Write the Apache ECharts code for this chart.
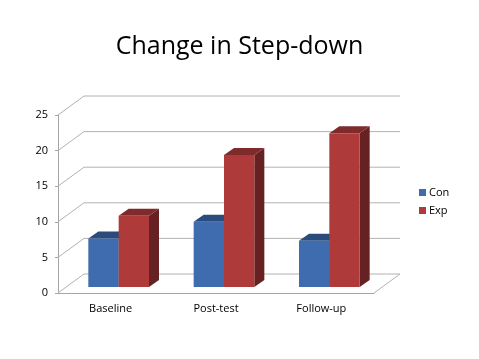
<!DOCTYPE html>
<html>
<head>
<meta charset="utf-8">
<style>
  html, body { margin: 0; padding: 0; background: #fff; }
  #chart { width: 479px; height: 359px; }
</style>
<script src="https://cdn.jsdelivr.net/npm/echarts@6/dist/echarts.min.js"></script>
</head>
<body>
<div id="chart"></div>
<script>
const categories = ['Baseline', 'Post-test', 'Follow-up'];
const conValues = [6.8, 9.15, 6.5];
const expValues = [10, 18.55, 21.6];
const gridValues = [0, 5, 10, 15, 20, 25];

// fake 3D: pixel offsets of the back wall and of the bar depth
const WALL_DX = 26;
const WALL_DY = -19;
const BAR_DX = 10;
const BAR_DY = -7;
const BAR_SHIFT_X = 8;
const BAR_SHIFT_Y = -6;
const BAR_RATIO = 0.288;

const myChart = echarts.init(document.getElementById('chart'), null, { renderer: 'canvas' });

function renderWall(params, api) {
  const value = api.value(1);
  const band = api.size([1, 0])[0];
  const p = api.coord([0, value]);
  const left = p[0] - band / 2;
  const right = left + band * categories.length;
  const y = p[1];
  const points = [[left, y], [left + WALL_DX, y + WALL_DY], [right + WALL_DX, y + WALL_DY]];
  if (value === 0) points.push([right, y]);
  return {
    type: 'polyline',
    shape: { points: points },
    style: { stroke: '#b2b2b2', lineWidth: 1, fill: null }
  };
}

function barRenderer(side, front, top, dark) {
  return function (params, api) {
    const base = api.coord([api.value(0), 0]);
    const head = api.coord([api.value(0), api.value(1)]);
    const w = api.size([1, 0])[0] * BAR_RATIO;
    const x0 = base[0] + BAR_SHIFT_X + (side === 0 ? -w : 0);
    const x1 = x0 + w;
    const y0 = base[1] + BAR_SHIFT_Y;
    const y1 = head[1] + BAR_SHIFT_Y;
    return {
      type: 'group',
      children: [
        {
          type: 'polygon',
          shape: { points: [[x1, y0], [x1 + BAR_DX, y0 + BAR_DY], [x1 + BAR_DX, y1 + BAR_DY], [x1, y1]] },
          style: { fill: dark }
        },
        {
          type: 'polygon',
          shape: { points: [[x0, y1], [x0 + BAR_DX, y1 + BAR_DY], [x1 + BAR_DX, y1 + BAR_DY], [x1, y1]] },
          style: { fill: top }
        },
        {
          type: 'rect',
          shape: { x: x0, y: y1, width: w, height: y0 - y1 },
          style: { fill: front }
        }
      ]
    };
  };
}

const option = {
  animation: false,
  backgroundColor: '#ffffff',
  textStyle: { fontFamily: 'Open Sans' },
  title: {
    text: 'Change in Step-down',
    left: 'center',
    top: 29,
    textStyle: { fontFamily: 'Open Sans', fontSize: 25, fontWeight: 'normal', color: '#000000' }
  },
  legend: {
    data: ['Con', 'Exp'],
    orient: 'vertical',
    left: 414,
    top: 182,
    itemWidth: 7,
    itemHeight: 7,
    itemGap: 7,
    icon: 'rect',
    textStyle: { fontSize: 11, color: '#000000', padding: [0, 0, 0, -2] }
  },
  grid: { left: 58, top: 115, width: 316, height: 178 },
  xAxis: {
    type: 'category',
    data: categories,
    axisLine: { lineStyle: { color: '#a6a6a6' } },
    axisTick: { length: 5, lineStyle: { color: '#a6a6a6' } },
    axisLabel: { color: '#000000', fontSize: 11, margin: 10 }
  },
  yAxis: {
    type: 'value',
    min: 0,
    max: 25,
    interval: 5,
    axisLine: { show: true, lineStyle: { color: '#a6a6a6' } },
    axisTick: { show: true, length: 3, lineStyle: { color: '#a6a6a6' } },
    axisLabel: { color: '#000000', fontSize: 11, margin: 10 },
    splitLine: { show: false }
  },
  series: [
    {
      name: 'wall',
      type: 'custom',
      renderItem: renderWall,
      encode: { x: 0, y: 1 },
      data: gridValues.map(v => [0, v]),
      z: 1
    },
    {
      name: 'Con',
      type: 'custom',
      renderItem: barRenderer(0, '#3f6cae', '#2c4b7d', '#24406b'),
      itemStyle: { color: '#3f6cae' },
      encode: { x: 0, y: 1 },
      data: conValues.map((v, i) => [i, v]),
      z: 2
    },
    {
      name: 'Exp',
      type: 'custom',
      renderItem: barRenderer(1, '#ae3a3a', '#7f2b2c', '#662222'),
      itemStyle: { color: '#ae3a3a' },
      encode: { x: 0, y: 1 },
      data: expValues.map((v, i) => [i, v]),
      z: 3
    }
  ]
};

myChart.setOption(option);
</script>
</body>
</html>
